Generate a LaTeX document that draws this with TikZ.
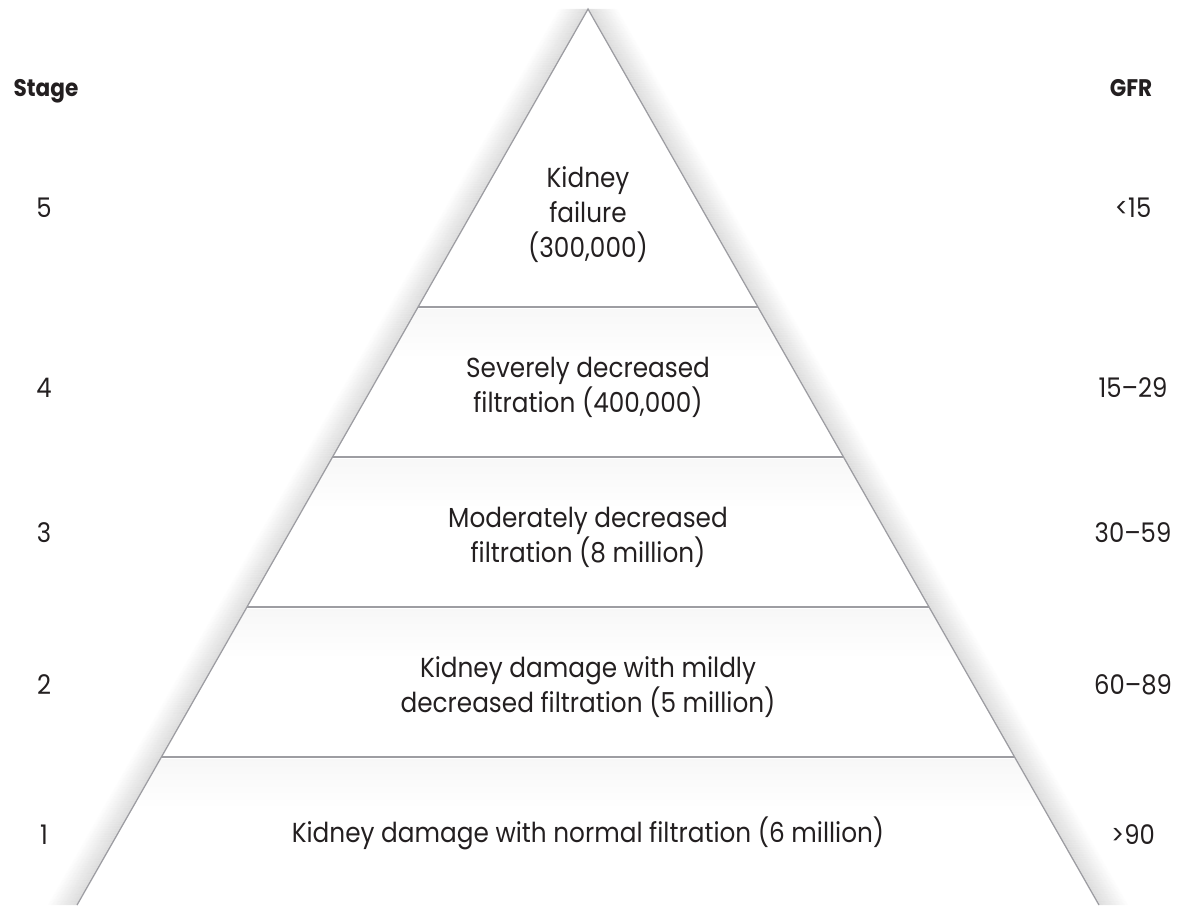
\documentclass[tikz,border=0pt]{standalone}
\usepackage{fontspec}
\setmainfont{Poppins}[FakeStretch=0.9]
\usepackage{tikz}
\usetikzlibrary{calc}
\definecolor{ink}{HTML}{231F20}
\definecolor{pyr}{HTML}{9D9DA2}

\begin{document}
\begin{tikzpicture}[
  x=1pt, y=-1pt,
  edge/.style={draw=pyr, line width=1.3pt},
  tier/.style={align=center, font=\fontsize{27.5}{35}\selectfont, text=ink, inner sep=0pt},
  side/.style={font=\fontsize{27}{34}\selectfont, text=ink, anchor=base, inner sep=0pt},
  head/.style={side, font=\fontsize{24}{30}\selectfont\bfseries}
]
\useasboundingbox (0,0) rectangle (1182,905);
\coordinate (top) at (588,9);
\coordinate (bl) at (77,905);
\coordinate (br) at (1099,905);
% soft shadow outside the two sides
\foreach \d [evaluate=\d as \o using {0.09*(1-\d/30)}] in {1,...,29}{
  \draw[black, opacity=\o, line width=1.2pt] ($(top)+(-\d,0)$) -- ($(bl)+(-\d,0)$);
  \draw[black, opacity=\o, line width=1.2pt] ($(top)+(\d,0)$) -- ($(br)+(\d,0)$);
}
% soft shadow under each tier line
\begin{scope}
  \clip (top) -- (bl) -- (br) -- cycle;
  \foreach \y in {307,457,607,757}
    \shade[top color=black!3, middle color=black!6, bottom color=white] (0,\y+2) rectangle (1182,\y+52);
\end{scope}
% pyramid
\draw[edge] (bl) -- (top) -- (br);
\foreach \t in {0.33259,0.5,0.66741,0.83482}
  \draw[edge] ($(top)!\t!(bl)$) -- ($(top)!\t!(br)$);

\node[tier] (t5) at (588,215) {Kidney\\failure\\(300,000)};
\node[tier] (t4) at (588,387) {Severely decreased\\filtration (400,000)};
\node[tier] (t3) at (588,537) {Moderately decreased\\filtration (8 million)};
\node[tier] (t2) at (588,687) {Kidney damage with mildly\\decreased filtration (5 million)};
\node[tier] (t1) at (588,833) {Kidney damage with normal filtration (6 million)};

\node[head] (stage) at (46,96) {Stage};
\node[side] (s5) at (44,217) {5};
\node[side] (s4) at (44,397) {4};
\node[side] (s3) at (44,542) {3};
\node[side] (s2) at (44,694) {2};
\node[side] (s1) at (44,844) {1};

\node[head] (gfr) at (1131,96) {GFR};
\node[side] (g5) at (1133,217) {<15};
\node[side] (g4) at (1133,397) {15–29};
\node[side] (g3) at (1133,542) {30–59};
\node[side] (g2) at (1133,694) {60–89};
\node[side] (g1) at (1133,844) {>90};
\end{tikzpicture}
\end{document}
